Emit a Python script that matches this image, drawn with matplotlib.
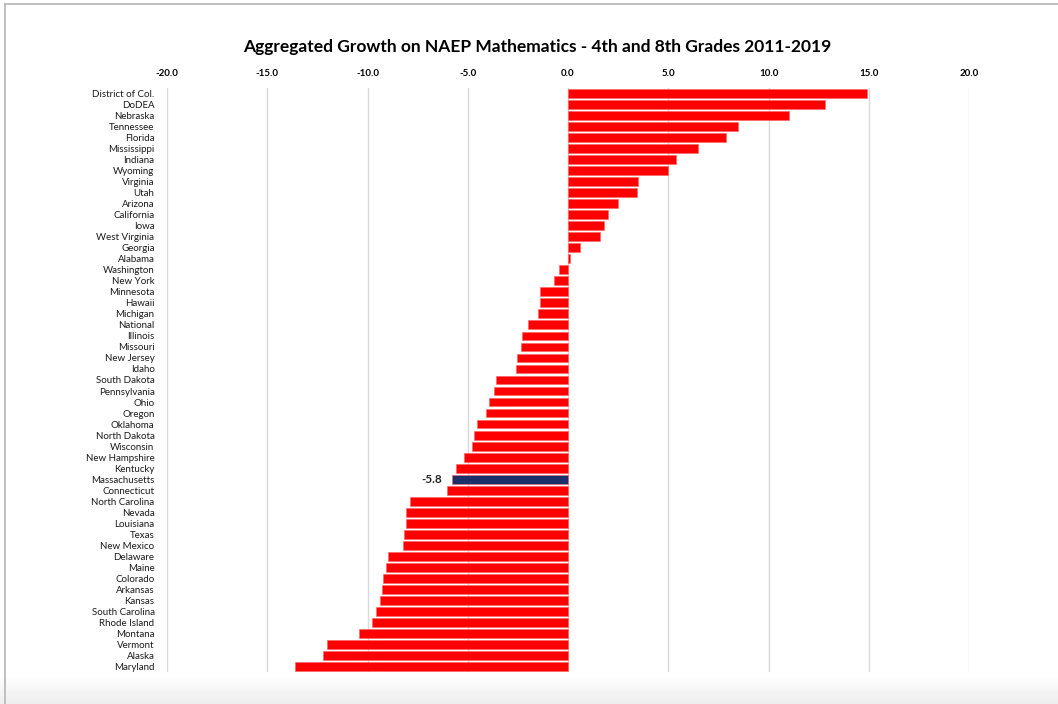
import numpy as np
import matplotlib
matplotlib.use("Agg")
import matplotlib.pyplot as plt
from matplotlib.lines import Line2D

plt.rcParams['font.family'] = ['Lato', 'DejaVu Sans']

states = ["District of Col.", "DoDEA", "Nebraska", "Tennessee", "Florida", "Mississippi",
          "Indiana", "Wyoming", "Virginia", "Utah", "Arizona", "California", "Iowa",
          "West Virginia", "Georgia", "Alabama", "Washington", "New York", "Minnesota",
          "Hawaii", "Michigan", "National", "Illinois", "Missouri", "New Jersey", "Idaho",
          "South Dakota", "Pennsylvania", "Ohio", "Oregon", "Oklahoma", "North Dakota",
          "Wisconsin", "New Hampshire", "Kentucky", "Massachusetts", "Connecticut",
          "North Carolina", "Nevada", "Louisiana", "Texas", "New Mexico", "Delaware",
          "Maine", "Colorado", "Arkansas", "Kansas", "South Carolina", "Rhode Island",
          "Montana", "Vermont", "Alaska", "Maryland"]
growth = [14.9, 12.8, 11.0, 8.5, 7.9, 6.5, 5.4, 5.0, 3.5, 3.45, 2.5, 2.0, 1.8, 1.6, 0.6,
          0.1, -0.45, -0.7, -1.4, -1.4, -1.5, -2.0, -2.3, -2.35, -2.55, -2.6, -3.6, -3.7,
          -3.95, -4.1, -4.55, -4.7, -4.8, -5.2, -5.6, -5.8, -6.05, -7.9, -8.1, -8.1, -8.2,
          -8.25, -9.0, -9.1, -9.25, -9.3, -9.4, -9.6, -9.8, -10.4, -12.0, -12.2, -13.6]
highlight = "Massachusetts"
xticks = [-20, -15, -10, -5, 0, 5, 10, 15, 20]

fig = plt.figure(figsize=(10.58, 7.04), dpi=100)

# screenshot frame: gray bottom band and thin border
bg = fig.add_axes([0, 0, 1, 1], zorder=-5)
bg.axis("off")
grad = np.linspace(1.0, 0.93, 30).reshape(-1, 1)
bg.imshow(grad, cmap="gray", vmin=0, vmax=1, extent=[0, 1058, 704, 674], aspect="auto")
bg.add_line(Line2D([5, 1058], [4, 4], color="#b5b5b5", lw=1.2))
bg.add_line(Line2D([5, 5], [4, 704], color="#b5b5b5", lw=1.2))
bg.set_xlim(0, 1058)
bg.set_ylim(704, 0)

ax = fig.add_axes([167 / 1058, 1 - 672 / 704, 802 / 1058, 584 / 704])
y = np.arange(len(states))
colors = ["#1b2f6b" if s == highlight else "#ff0000" for s in states]
ax.barh(y, growth, height=0.8, color=colors, edgecolor="#ff6060", linewidth=0.4, zorder=3)

ax.set_ylim(len(states) - 0.5, -0.5)
ax.set_xlim(-20, 20)
ax.set_xticks(xticks)
ax.set_xticklabels([f"{t:.1f}" for t in xticks], fontsize=7, fontweight="bold")
ax.xaxis.tick_top()
ax.tick_params(axis="x", length=0, pad=7)
ax.set_yticks(y)
ax.set_yticklabels(states, fontsize=7, color="#1a1a1a")
ax.tick_params(axis="y", length=0, pad=9)
ax.grid(axis="x", color="#d9d9d9", lw=1.0, zorder=0)
for sp in ax.spines.values():
    sp.set_visible(False)

i = states.index(highlight)
ax.text(growth[i] - 0.5, i, f"{growth[i]:.1f}", ha="right", va="center",
        fontsize=8.5, fontweight="bold", color="#222222")

fig.text(537 / 1058, 1 - 47 / 704, "Aggregated Growth on NAEP Mathematics - 4th and 8th Grades 2011-2019",
         ha="center", va="center", fontsize=12.5, fontweight="bold")

fig.savefig("out.png", dpi=100)
